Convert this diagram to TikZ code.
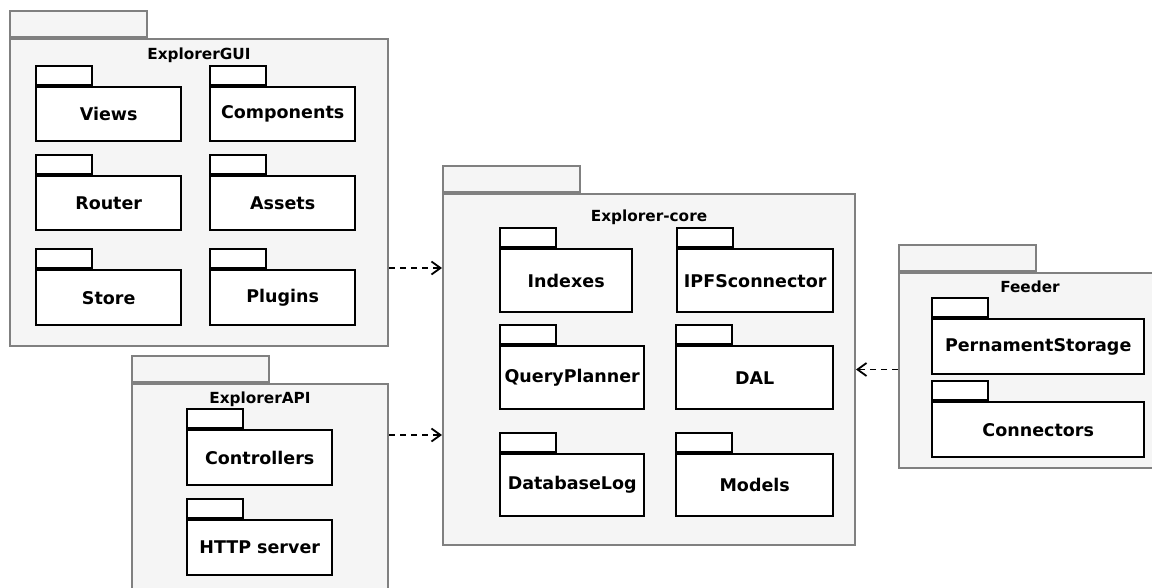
\documentclass[tikz,border=0pt]{standalone}
\usepackage{fontspec}
\setmainfont{DejaVu Sans}
\usetikzlibrary{positioning,arrows.meta}

\begin{document}
\begin{tikzpicture}[x=1pt, y=-1pt,
pkg/.style={draw=black!50, line width=2pt, fill=black!4, anchor=north west, inner sep=0pt},
pkgtab/.style={pkg, anchor=south west, minimum width=137pt, minimum height=26pt},
pkgname/.style={font=\bfseries\fontsize{15.3}{17}\selectfont, inner sep=0pt},
sub/.style={draw=black, line width=2.4pt, fill=white, anchor=north west, inner sep=0pt, font=\bfseries\fontsize{17.5}{19}\selectfont},
subtab/.style={sub, anchor=south west, minimum width=56pt, minimum height=19pt},
dep/.style={line width=1.8pt, dash pattern=on 6pt off 5pt, -{Straight Barb[length=9pt, width=13pt, line width=1.8pt]}}
]
\useasboundingbox (0,0) rectangle (1152,587);

%Outer packages
\node[pkg, minimum width=378pt, minimum height=307pt] (gui)    at (9,38)    {};
\node[pkgtab]                                        (guitab) at (gui.north west) {};
\node[pkgname, below=10pt of gui.north]               (guiname) {ExplorerGUI};

\node[pkg, minimum width=256pt, minimum height=230pt] (api)    at (131,383) {};
\node[pkgtab]                                        (apitab) at (api.north west) {};
\node[pkgname, below=8.5pt of api.north]              (apiname) {ExplorerAPI};

\node[pkg, minimum width=412pt, minimum height=351pt] (core)    at (442,193) {};
\node[pkgtab]                                        (coretab) at (core.north west) {};
\node[pkgname, below=16.5pt of core.north]            (corename) {Explorer-core};

\node[pkg, minimum width=262pt, minimum height=195pt] (feeder)    at (898,272) {};
\node[pkgtab]                                        (feedertab) at (feeder.north west) {};
\node[pkgname, below=8.5pt of feeder.north]           (feedername) {Feeder};

%ExplorerGUI
\node[sub, minimum width=145pt, minimum height=54pt] (views)      at (35,86)   {Views};
\node[subtab]                                        (viewstab)   at (views.north west) {};
\node[sub, minimum width=145pt, minimum height=54pt] (components) at (209,86)  {Components};
\node[subtab]                                        (compstab)   at (components.north west) {};
\node[sub, minimum width=145pt, minimum height=54pt] (router)     at (35,175)  {Router};
\node[subtab]                                        (routertab)  at (router.north west) {};
\node[sub, minimum width=145pt, minimum height=54pt] (assets)     at (209,175) {Assets};
\node[subtab]                                        (assetstab)  at (assets.north west) {};
\node[sub, minimum width=145pt, minimum height=55pt] (store)      at (35,269)  {Store};
\node[subtab]                                        (storetab)   at (store.north west) {};
\node[sub, minimum width=145pt, minimum height=55pt] (plugins)    at (209,269) {Plugins};
\node[subtab]                                        (pluginstab) at (plugins.north west) {};

%ExplorerAPI
\node[sub, minimum width=145pt, minimum height=55pt] (controllers) at (186,429) {Controllers};
\node[subtab]                                        (ctrltab)     at (controllers.north west) {};
\node[sub, minimum width=145pt, minimum height=55pt] (http)        at (186,519) {HTTP server};
\node[subtab]                                        (httptab)     at (http.north west) {};

%Explorer-core
\node[sub, minimum width=132pt, minimum height=63pt] (indexes) at (499,248) {Indexes};
\node[subtab]                                        (indexestab) at (indexes.north west) {};
\node[sub, minimum width=156pt, minimum height=63pt] (ipfs)    at (676,248) {IPFSconnector};
\node[subtab]                                        (ipfstab)    at (ipfs.north west) {};
\node[sub, minimum width=144pt, minimum height=63pt] (query)   at (499,345) {QueryPlanner};
\node[subtab]                                        (querytab)   at (query.north west) {};
\node[sub, minimum width=157pt, minimum height=63pt] (dal)     at (675,345) {DAL};
\node[subtab]                                        (daltab)     at (dal.north west) {};
\node[sub, minimum width=144pt, minimum height=62pt] (dblog)   at (499,453) {DatabaseLog};
\node[subtab]                                        (dblogtab)   at (dblog.north west) {};
\node[sub, minimum width=157pt, minimum height=62pt] (models)  at (675,453) {Models};
\node[subtab]                                        (modelstab)  at (models.north west) {};

%Feeder
\node[sub, minimum width=212pt, minimum height=55pt] (storage)    at (931,318) {PernamentStorage};
\node[subtab]                                        (storagetab) at (storage.north west) {};
\node[sub, minimum width=212pt, minimum height=55pt] (connectors) at (931,401) {Connectors};
\node[subtab]                                        (conntab)    at (connectors.north west) {};

%Lines
\draw[dep] (gui.east |- 0,268) -- (core.west |- 0,268);
\draw[dep] (api.east |- 0,435) -- (core.west |- 0,435);
\draw[dep] (feeder.west |- core.east) -- (core.east);
\end{tikzpicture}
\end{document}
